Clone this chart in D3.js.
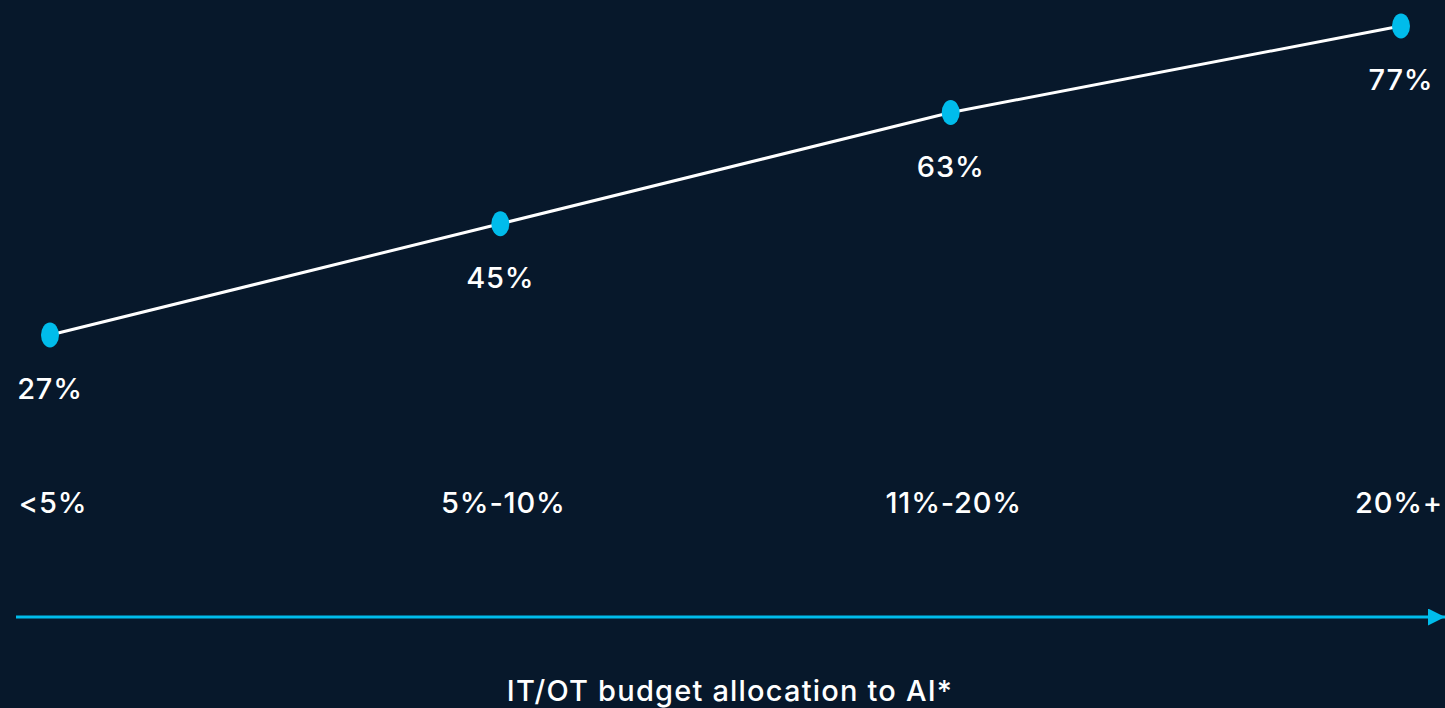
<!DOCTYPE html>
<html>
<head>
<meta charset="utf-8">
<script src="https://cdn.jsdelivr.net/npm/d3@7"></script>
<style>
  html, body { margin: 0; padding: 0; background: #07182b; overflow: hidden; }
  text { font-family: Inter, "Open Sans", sans-serif; fill: #ffffff; }
</style>
</head>
<body>
<div id="chart"></div>
<script>
// data
const categories = ["<5%", "5%-10%", "11%-20%", "20%+"];
const values = [27, 45, 63, 77];
const axisTitle = "IT/OT budget allocation to AI*";

const width = 1445;
const height = 708;

const svg = d3.select("#chart")
  .append("svg")
  .attr("width", width)
  .attr("height", height);

const x = d3.scalePoint()
  .domain(categories)
  .range([50, 1401]);

const y = d3.scaleLinear()
  .domain([27, 77])
  .range([335, 26]);

// line
const line = d3.line()
  .x((d, i) => x(categories[i]))
  .y(d => y(d));

svg.append("path")
  .datum(values)
  .attr("d", line)
  .attr("fill", "none")
  .attr("stroke", "#ffffff")
  .attr("stroke-width", 3);

// markers
svg.selectAll(".dot")
  .data(values)
  .enter()
  .append("ellipse")
  .attr("cx", (d, i) => x(categories[i]))
  .attr("cy", d => y(d))
  .attr("rx", 9)
  .attr("ry", 12.5)
  .attr("fill", "#00bceb");

// value labels
svg.selectAll(".val")
  .data(values)
  .enter()
  .append("text")
  .attr("x", (d, i) => x(categories[i]))
  .attr("y", d => y(d) + 64)
  .attr("text-anchor", "middle")
  .style("font-size", "29px")
  .style("font-weight", 500)
  .style("letter-spacing", "0.8px")
  .text(d => d + "%");

// category labels (kept inside the right edge)
svg.selectAll(".cat")
  .data(categories)
  .enter()
  .append("text")
  .attr("y", 513)
  .attr("text-anchor", "middle")
  .style("font-size", "29px")
  .style("font-weight", 500)
  .style("letter-spacing", "0.8px")
  .text(d => d)
  .attr("x", function (d) {
    const half = this.getComputedTextLength() / 2;
    return Math.min(x(d) + 3, width - 2 - half);
  });

// arrow axis
svg.append("defs")
  .append("marker")
  .attr("id", "arrow")
  .attr("viewBox", "0 0 10 10")
  .attr("refX", 10)
  .attr("refY", 5)
  .attr("markerUnits", "userSpaceOnUse")
  .attr("markerWidth", 20)
  .attr("markerHeight", 17)
  .attr("orient", "auto")
  .append("path")
  .attr("d", "M0,0L10,5L0,10Z")
  .attr("fill", "#00bceb");

svg.append("line")
  .attr("x1", 16)
  .attr("x2", 1445)
  .attr("y1", 617)
  .attr("y2", 617)
  .attr("stroke", "#00bceb")
  .attr("stroke-width", 3)
  .attr("marker-end", "url(#arrow)");

svg.append("text")
  .attr("x", 730)
  .attr("y", 701)
  .attr("text-anchor", "middle")
  .style("font-size", "29px")
  .style("font-weight", 500)
  .style("letter-spacing", "1.2px")
  .text(axisTitle);
</script>
</body>
</html>
